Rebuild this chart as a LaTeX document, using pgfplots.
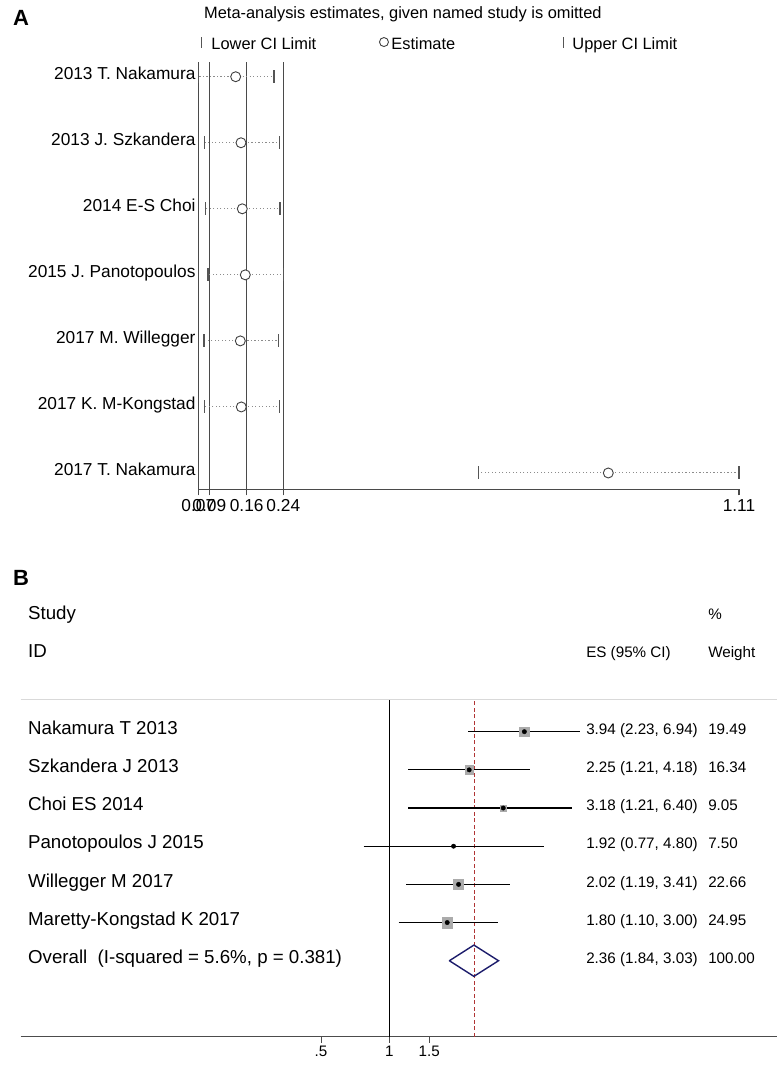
\documentclass[border=0pt]{standalone}
\usepackage{fontspec}
\setmainfont{Liberation Sans}
\usepackage{pgfplots}
\pgfplotsset{compat=1.18}
\usepackage{pgfplotstable}

\definecolor{refline}{HTML}{4A4A4A}
\definecolor{dotgray}{HTML}{8C8C8C}
\definecolor{tickgray}{HTML}{555555}
\definecolor{boxgray}{HTML}{ABABAB}
\definecolor{navy}{HTML}{1C1C6B}
\definecolor{dashred}{HTML}{B03434}

\newcommand{\fA}{\fontsize{17.3}{20}\selectfont}
\newcommand{\fT}{\fontsize{16.4}{19}\selectfont}
\newcommand{\fB}{\fontsize{18.7}{22}\selectfont}
\newcommand{\fBs}{\fontsize{15.2}{18}\selectfont}

\pgfplotsset{
  barimg/.style={legend image code/.code={\draw[mark=|, mark size=5.5pt, tickgray, line width=1.3pt] plot coordinates {(0pt,1.5pt)};}},
  circimg/.style={legend image code/.code={\draw[mark=*, mark size=4.5pt, mark options={fill=white, draw=black!75, line width=0.9pt}] plot coordinates {(0pt,2pt)};}},
}

% Panel A: leave-one-out estimates
\pgfplotstableread{
y   est     lo      hi
7   0.1419  0.0700  0.2156
6   0.1521  0.0815  0.2258
5   0.1546  0.0835  0.2271
4   0.1604  0.0887  0.2335
3   0.1508  0.0810  0.2246
2   0.1527  0.0823  0.2258
1   0.8586  0.6086  1.1100
}\sensA

\begin{document}
\begin{tikzpicture}
\path[use as bounding box] (0,0) rectangle (777pt,1066pt);
\node[anchor=west, font=\fontsize{22}{24}\selectfont\bfseries, inner sep=0pt] at (13pt,1048pt) {A};
\node[anchor=west, font=\fontsize{22}{24}\selectfont\bfseries, inner sep=0pt] at (13pt,488pt) {B};

% ---------------- Panel A ----------------
\begin{axis}[
  at={(198.3pt,576.7pt)}, anchor=south west,
  scale only axis, width=540.7pt, height=427.3pt,
  xmin=0.07, xmax=1.11, ymin=0.753, ymax=7.223,
  axis x line*=bottom, axis y line=none,
  x axis line style={refline, line width=1.1pt},
  xtick={0.07,0.0912,0.1631,0.2335,1.11},
  xticklabels={0.07,0.09,0.16,0.24,1.11},
  tick align=outside, major tick length=6pt,
  xtick style={refline, line width=1.1pt},
  xticklabel style={font=\fA, inner sep=1pt, yshift=-3pt},
  clip=false,
  title={Meta-analysis estimates, given named study is omitted},
  title style={at={(axis description cs:0.0105,1.0983)}, anchor=west, font=\fT, inner sep=0pt},
  legend columns=3,
  legend cell align=left,
  legend style={draw=none, fill=none, at={(axis description cs:0.0055,1.042)}, anchor=west,
    font=\fT, inner sep=0pt, /tikz/every even column/.append style={column sep=0pt}},
]
\addplot[forget plot, refline, line width=1.3pt] coordinates {(0.07,0.753) (0.07,7.223)};
\addplot[forget plot, refline, line width=1.3pt] coordinates {(0.0912,0.753) (0.0912,7.223)};
\addplot[forget plot, refline, line width=1.3pt] coordinates {(0.1631,0.753) (0.1631,7.223)};
\addplot[forget plot, refline, line width=1.3pt] coordinates {(0.2335,0.753) (0.2335,7.223)};

\addplot[forget plot, only marks, mark=none,
  error bars/.cd, x dir=both, x explicit, error mark=none,
  error bar style={dotgray, line width=1pt, dash pattern=on 1.2pt off 2.3pt}]
  table[x=est, y=y,
        x error plus expr=\thisrow{hi}-\thisrow{est},
        x error minus expr=\thisrow{est}-\thisrow{lo}] {\sensA};

\addplot[only marks, mark=|, mark size=6.5pt, tickgray, line width=1.3pt, barimg]
  table[x=lo, y=y] {\sensA};
\addlegendentry{\makebox[174pt][l]{\hspace*{8pt}Lower CI Limit}}

\addplot[only marks, mark=*, mark size=5pt, mark options={fill=white, draw=black!75, line width=0.9pt}, circimg]
  table[x=est, y=y] {\sensA};
\addlegendentry{\makebox[171pt][l]{\hspace*{1pt}Estimate}}

\addplot[only marks, mark=|, mark size=6.5pt, tickgray, line width=1.3pt, barimg]
  table[x=hi, y=y] {\sensA};
\addlegendentry{\hspace*{7pt}Upper CI Limit}

\node[anchor=mid east, font=\fA, inner sep=0pt] at (axis cs:0.065,7) {2013 T. Nakamura};
\node[anchor=mid east, font=\fA, inner sep=0pt] at (axis cs:0.065,6) {2013 J. Szkandera};
\node[anchor=mid east, font=\fA, inner sep=0pt] at (axis cs:0.065,5) {2014 E-S Choi};
\node[anchor=mid east, font=\fA, inner sep=0pt] at (axis cs:0.065,4) {2015 J. Panotopoulos};
\node[anchor=mid east, font=\fA, inner sep=0pt] at (axis cs:0.065,3) {2017 M. Willegger};
\node[anchor=mid east, font=\fA, inner sep=0pt] at (axis cs:0.065,2) {2017 K. M-Kongstad};
\node[anchor=mid east, font=\fA, inner sep=0pt] at (axis cs:0.065,1) {2017 T. Nakamura};
\end{axis}

% ---------------- Panel B ----------------
\begin{axis}[
  at={(20.7pt,29.3pt)}, anchor=south west,
  scale only axis, width=756.3pt, height=336.7pt,
  xmode=log, xmin=0.0237, xmax=51.2, ymin=-0.99, ymax=7.83,
  axis x line*=bottom, axis y line=none,
  x axis line style={black!70, line width=0.9pt},
  xtick={0.5,1,1.5}, xticklabels={.5,1,1.5}, minor xtick={},
  tick align=outside, major tick length=6pt,
  xtick style={black!70, line width=0.9pt},
  xticklabel style={font=\fBs},
  clip=false,
]
\addplot[gray!30, line width=1pt] coordinates {(0.0237,7.83) (51.2,7.83)};
\addplot[black, line width=0.9pt] coordinates {(1,-0.99) (1,7.83)};
\addplot[dashred, line width=0.8pt, dash pattern=on 4pt off 2.5pt] coordinates {(2.36,-0.99) (2.36,7.83)};
\addplot[black, line width=1.1pt] coordinates {(2.23,7) (6.94,7)};
\addplot[black, line width=1.1pt] coordinates {(1.21,6) (4.18,6)};
\addplot[black, line width=1.1pt] coordinates {(1.21,5) (6.40,5)};
\addplot[black, line width=1.1pt] coordinates {(0.77,4) (4.80,4)};
\addplot[black, line width=1.1pt] coordinates {(1.19,3) (3.41,3)};
\addplot[black, line width=1.1pt] coordinates {(1.10,2) (3.00,2)};
\addplot[only marks, mark=square*, boxgray, mark size=4.8pt] coordinates {(3.94,7)};
\addplot[only marks, mark=square*, boxgray, mark size=4.4pt] coordinates {(2.25,6)};
\addplot[only marks, mark=square*, boxgray, mark size=3.3pt] coordinates {(3.18,5)};
\addplot[only marks, mark=square*, boxgray, mark size=5.1pt] coordinates {(2.02,3)};
\addplot[only marks, mark=square*, boxgray, mark size=5.4pt] coordinates {(1.80,2)};
\addplot[only marks, mark=*, mark size=2.2pt, black] coordinates {(3.94,7) (2.25,6) (3.18,5) (1.92,4) (2.02,3) (1.80,2)};
\addplot[navy, line width=1.4pt, line join=miter, line cap=round] coordinates {(1.84,1) (2.36,1.41) (3.03,1) (2.36,0.59) (1.84,1)};

\node[anchor=mid west, font=\fB, inner sep=0pt] at (axis cs:0.0255,10) {Study};
\node[anchor=mid west, font=\fB, inner sep=0pt] at (axis cs:0.0255,9) {ID};
\node[anchor=mid west, font=\fBs, inner sep=0pt] at (axis cs:7.37,9) {ES (95\% CI)};
\node[anchor=mid west, font=\fBs, inner sep=0pt] at (axis cs:25.43,10) {\%};
\node[anchor=mid west, font=\fBs, inner sep=0pt] at (axis cs:25.43,9) {Weight};
\node[anchor=mid west, font=\fB, inner sep=0pt] at (axis cs:0.0255,7) {Nakamura T 2013};
\node[anchor=mid west, font=\fB, inner sep=0pt] at (axis cs:0.0255,6) {Szkandera J 2013};
\node[anchor=mid west, font=\fB, inner sep=0pt] at (axis cs:0.0255,5) {Choi ES 2014};
\node[anchor=mid west, font=\fB, inner sep=0pt] at (axis cs:0.0255,4) {Panotopoulos J 2015};
\node[anchor=mid west, font=\fB, inner sep=0pt] at (axis cs:0.0255,3) {Willegger M 2017};
\node[anchor=mid west, font=\fB, inner sep=0pt] at (axis cs:0.0255,2) {Maretty-Kongstad K 2017};
\node[anchor=mid west, font=\fB, inner sep=0pt] at (axis cs:0.0255,1) {Overall\ \ (I-squared = 5.6\%, p = 0.381)};
\node[anchor=mid west, font=\fBs, inner sep=0pt] at (axis cs:7.37,7) {3.94 (2.23, 6.94)};
\node[anchor=mid west, font=\fBs, inner sep=0pt] at (axis cs:7.37,6) {2.25 (1.21, 4.18)};
\node[anchor=mid west, font=\fBs, inner sep=0pt] at (axis cs:7.37,5) {3.18 (1.21, 6.40)};
\node[anchor=mid west, font=\fBs, inner sep=0pt] at (axis cs:7.37,4) {1.92 (0.77, 4.80)};
\node[anchor=mid west, font=\fBs, inner sep=0pt] at (axis cs:7.37,3) {2.02 (1.19, 3.41)};
\node[anchor=mid west, font=\fBs, inner sep=0pt] at (axis cs:7.37,2) {1.80 (1.10, 3.00)};
\node[anchor=mid west, font=\fBs, inner sep=0pt] at (axis cs:7.37,1) {2.36 (1.84, 3.03)};
\node[anchor=mid west, font=\fBs, inner sep=0pt] at (axis cs:25.43,7) {19.49};
\node[anchor=mid west, font=\fBs, inner sep=0pt] at (axis cs:25.43,6) {16.34};
\node[anchor=mid west, font=\fBs, inner sep=0pt] at (axis cs:25.43,5) {9.05};
\node[anchor=mid west, font=\fBs, inner sep=0pt] at (axis cs:25.43,4) {7.50};
\node[anchor=mid west, font=\fBs, inner sep=0pt] at (axis cs:25.43,3) {22.66};
\node[anchor=mid west, font=\fBs, inner sep=0pt] at (axis cs:25.43,2) {24.95};
\node[anchor=mid west, font=\fBs, inner sep=0pt] at (axis cs:25.43,1) {100.00};
\end{axis}
\end{tikzpicture}
\end{document}
